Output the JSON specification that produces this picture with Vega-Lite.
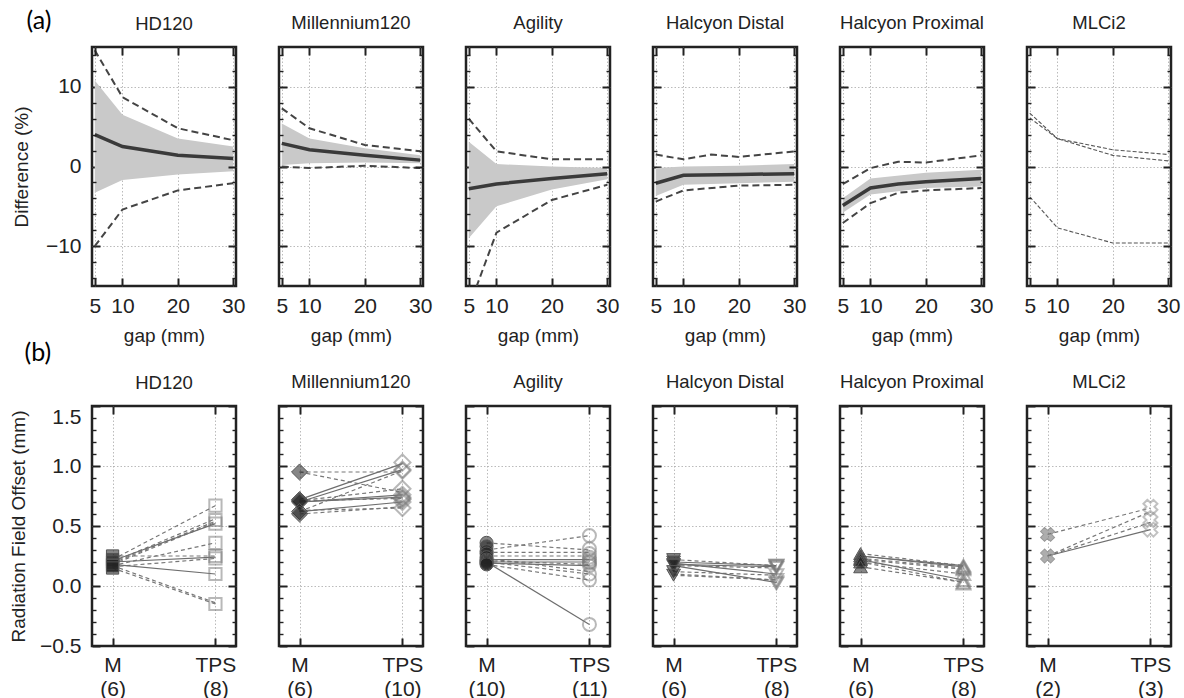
{
  "$schema": "https://vega.github.io/schema/vega-lite/v6.json",
  "padding": {"left": 8, "top": 6, "right": 5, "bottom": 5},
  "columns": 6,
  "bounds": "flush",
  "spacing": {"column": 43, "row": 120},
  "datasets": {
    "band": [
      {"inst": "HD120", "gap": 5, "lo": -3.3, "hi": 10.8},
      {"inst": "HD120", "gap": 10, "lo": -1.7, "hi": 6.5},
      {"inst": "HD120", "gap": 20, "lo": -1.0, "hi": 3.5},
      {"inst": "HD120", "gap": 30, "lo": -0.6, "hi": 2.5},
      {"inst": "Millennium120", "gap": 5, "lo": 0.2, "hi": 5.4},
      {"inst": "Millennium120", "gap": 10, "lo": 0.4, "hi": 3.5},
      {"inst": "Millennium120", "gap": 20, "lo": 0.5, "hi": 2.3},
      {"inst": "Millennium120", "gap": 30, "lo": 0.4, "hi": 1.4},
      {"inst": "Agility", "gap": 5, "lo": -9.0, "hi": 3.1},
      {"inst": "Agility", "gap": 10, "lo": -5.0, "hi": 0.3},
      {"inst": "Agility", "gap": 20, "lo": -2.9, "hi": 0.0},
      {"inst": "Agility", "gap": 30, "lo": -1.6, "hi": -0.2},
      {"inst": "Halcyon Distal", "gap": 5, "lo": -3.7, "hi": -0.2},
      {"inst": "Halcyon Distal", "gap": 10, "lo": -2.3, "hi": 0.0},
      {"inst": "Halcyon Distal", "gap": 20, "lo": -2.1, "hi": 0.1},
      {"inst": "Halcyon Distal", "gap": 30, "lo": -1.9, "hi": 0.3},
      {"inst": "Halcyon Proximal", "gap": 5, "lo": -5.8, "hi": -4.0},
      {"inst": "Halcyon Proximal", "gap": 10, "lo": -3.5, "hi": -1.5},
      {"inst": "Halcyon Proximal", "gap": 20, "lo": -2.7, "hi": -0.8},
      {"inst": "Halcyon Proximal", "gap": 30, "lo": -2.5, "hi": -0.4}
    ],
    "top": [
      {"inst": "HD120", "series": "mean", "gap": 5, "value": 4.0},
      {"inst": "HD120", "series": "mean", "gap": 10, "value": 2.5},
      {"inst": "HD120", "series": "mean", "gap": 20, "value": 1.4},
      {"inst": "HD120", "series": "mean", "gap": 30, "value": 1.0},
      {"inst": "HD120", "series": "max", "gap": 5, "value": 14.6},
      {"inst": "HD120", "series": "max", "gap": 10, "value": 8.7},
      {"inst": "HD120", "series": "max", "gap": 20, "value": 4.8},
      {"inst": "HD120", "series": "max", "gap": 30, "value": 3.3},
      {"inst": "HD120", "series": "min", "gap": 5, "value": -10.0},
      {"inst": "HD120", "series": "min", "gap": 10, "value": -5.4},
      {"inst": "HD120", "series": "min", "gap": 20, "value": -3.0},
      {"inst": "HD120", "series": "min", "gap": 30, "value": -2.1},
      {"inst": "Millennium120", "series": "mean", "gap": 5, "value": 2.9},
      {"inst": "Millennium120", "series": "mean", "gap": 10, "value": 2.1},
      {"inst": "Millennium120", "series": "mean", "gap": 20, "value": 1.4},
      {"inst": "Millennium120", "series": "mean", "gap": 30, "value": 0.8},
      {"inst": "Millennium120", "series": "max", "gap": 5, "value": 7.3},
      {"inst": "Millennium120", "series": "max", "gap": 10, "value": 4.8},
      {"inst": "Millennium120", "series": "max", "gap": 20, "value": 2.7},
      {"inst": "Millennium120", "series": "max", "gap": 30, "value": 1.9},
      {"inst": "Millennium120", "series": "min", "gap": 5, "value": 0.0},
      {"inst": "Millennium120", "series": "min", "gap": 10, "value": -0.2},
      {"inst": "Millennium120", "series": "min", "gap": 20, "value": 0.1},
      {"inst": "Millennium120", "series": "min", "gap": 30, "value": -0.2},
      {"inst": "Agility", "series": "mean", "gap": 5, "value": -2.8},
      {"inst": "Agility", "series": "mean", "gap": 10, "value": -2.2},
      {"inst": "Agility", "series": "mean", "gap": 20, "value": -1.5},
      {"inst": "Agility", "series": "mean", "gap": 30, "value": -0.9},
      {"inst": "Agility", "series": "max", "gap": 5, "value": 6.0},
      {"inst": "Agility", "series": "max", "gap": 10, "value": 1.9},
      {"inst": "Agility", "series": "max", "gap": 20, "value": 0.9},
      {"inst": "Agility", "series": "max", "gap": 30, "value": 0.9},
      {"inst": "Agility", "series": "min", "gap": 5, "value": -17.7},
      {"inst": "Agility", "series": "min", "gap": 10, "value": -8.3},
      {"inst": "Agility", "series": "min", "gap": 20, "value": -4.2},
      {"inst": "Agility", "series": "min", "gap": 30, "value": -2.3},
      {"inst": "Halcyon Distal", "series": "mean", "gap": 5, "value": -2.1},
      {"inst": "Halcyon Distal", "series": "mean", "gap": 10, "value": -1.1},
      {"inst": "Halcyon Distal", "series": "mean", "gap": 20, "value": -1.0},
      {"inst": "Halcyon Distal", "series": "mean", "gap": 30, "value": -0.9},
      {"inst": "Halcyon Distal", "series": "max", "gap": 5, "value": 1.5},
      {"inst": "Halcyon Distal", "series": "max", "gap": 10, "value": 0.9},
      {"inst": "Halcyon Distal", "series": "max", "gap": 15, "value": 1.5},
      {"inst": "Halcyon Distal", "series": "max", "gap": 20, "value": 1.2},
      {"inst": "Halcyon Distal", "series": "max", "gap": 30, "value": 1.9},
      {"inst": "Halcyon Distal", "series": "min", "gap": 5, "value": -4.4},
      {"inst": "Halcyon Distal", "series": "min", "gap": 10, "value": -3.0},
      {"inst": "Halcyon Distal", "series": "min", "gap": 20, "value": -2.4},
      {"inst": "Halcyon Distal", "series": "min", "gap": 30, "value": -2.3},
      {"inst": "Halcyon Proximal", "series": "mean", "gap": 5, "value": -4.9},
      {"inst": "Halcyon Proximal", "series": "mean", "gap": 10, "value": -2.7},
      {"inst": "Halcyon Proximal", "series": "mean", "gap": 15, "value": -2.2},
      {"inst": "Halcyon Proximal", "series": "mean", "gap": 20, "value": -1.9},
      {"inst": "Halcyon Proximal", "series": "mean", "gap": 30, "value": -1.5},
      {"inst": "Halcyon Proximal", "series": "max", "gap": 5, "value": -2.2},
      {"inst": "Halcyon Proximal", "series": "max", "gap": 10, "value": -0.2},
      {"inst": "Halcyon Proximal", "series": "max", "gap": 15, "value": 0.6},
      {"inst": "Halcyon Proximal", "series": "max", "gap": 20, "value": 0.5},
      {"inst": "Halcyon Proximal", "series": "max", "gap": 30, "value": 1.4},
      {"inst": "Halcyon Proximal", "series": "min", "gap": 5, "value": -7.1},
      {"inst": "Halcyon Proximal", "series": "min", "gap": 10, "value": -4.6},
      {"inst": "Halcyon Proximal", "series": "min", "gap": 15, "value": -3.3},
      {"inst": "Halcyon Proximal", "series": "min", "gap": 20, "value": -3.0},
      {"inst": "Halcyon Proximal", "series": "min", "gap": 30, "value": -2.7},
      {"inst": "MLCi2", "series": "a", "gap": 5, "value": 6.7},
      {"inst": "MLCi2", "series": "a", "gap": 10, "value": 3.5},
      {"inst": "MLCi2", "series": "a", "gap": 20, "value": 2.1},
      {"inst": "MLCi2", "series": "a", "gap": 30, "value": 1.5},
      {"inst": "MLCi2", "series": "b", "gap": 5, "value": 6.1},
      {"inst": "MLCi2", "series": "b", "gap": 10, "value": 3.5},
      {"inst": "MLCi2", "series": "b", "gap": 20, "value": 1.4},
      {"inst": "MLCi2", "series": "b", "gap": 30, "value": 0.7},
      {"inst": "MLCi2", "series": "c", "gap": 5, "value": -3.8},
      {"inst": "MLCi2", "series": "c", "gap": 10, "value": -7.7},
      {"inst": "MLCi2", "series": "c", "gap": 20, "value": -9.6},
      {"inst": "MLCi2", "series": "c", "gap": 30, "value": -9.6}
    ],
    "pts": [
      {"inst": "HD120", "cat": "M", "value": 0.25},
      {"inst": "HD120", "cat": "M", "value": 0.22},
      {"inst": "HD120", "cat": "M", "value": 0.20},
      {"inst": "HD120", "cat": "M", "value": 0.18},
      {"inst": "HD120", "cat": "M", "value": 0.17},
      {"inst": "HD120", "cat": "M", "value": 0.15},
      {"inst": "HD120", "cat": "TPS", "value": 0.67},
      {"inst": "HD120", "cat": "TPS", "value": 0.55},
      {"inst": "HD120", "cat": "TPS", "value": 0.52},
      {"inst": "HD120", "cat": "TPS", "value": 0.36},
      {"inst": "HD120", "cat": "TPS", "value": 0.25},
      {"inst": "HD120", "cat": "TPS", "value": 0.23},
      {"inst": "HD120", "cat": "TPS", "value": 0.10},
      {"inst": "HD120", "cat": "TPS", "value": -0.15},
      {"inst": "Millennium120", "cat": "M", "value": 0.95},
      {"inst": "Millennium120", "cat": "M", "value": 0.72},
      {"inst": "Millennium120", "cat": "M", "value": 0.71},
      {"inst": "Millennium120", "cat": "M", "value": 0.70},
      {"inst": "Millennium120", "cat": "M", "value": 0.62},
      {"inst": "Millennium120", "cat": "M", "value": 0.60},
      {"inst": "Millennium120", "cat": "TPS", "value": 1.03},
      {"inst": "Millennium120", "cat": "TPS", "value": 0.97},
      {"inst": "Millennium120", "cat": "TPS", "value": 0.96},
      {"inst": "Millennium120", "cat": "TPS", "value": 0.81},
      {"inst": "Millennium120", "cat": "TPS", "value": 0.76},
      {"inst": "Millennium120", "cat": "TPS", "value": 0.74},
      {"inst": "Millennium120", "cat": "TPS", "value": 0.73},
      {"inst": "Millennium120", "cat": "TPS", "value": 0.72},
      {"inst": "Millennium120", "cat": "TPS", "value": 0.70},
      {"inst": "Millennium120", "cat": "TPS", "value": 0.65},
      {"inst": "Agility", "cat": "M", "value": 0.36},
      {"inst": "Agility", "cat": "M", "value": 0.33},
      {"inst": "Agility", "cat": "M", "value": 0.29},
      {"inst": "Agility", "cat": "M", "value": 0.27},
      {"inst": "Agility", "cat": "M", "value": 0.24},
      {"inst": "Agility", "cat": "M", "value": 0.22},
      {"inst": "Agility", "cat": "M", "value": 0.21},
      {"inst": "Agility", "cat": "M", "value": 0.20},
      {"inst": "Agility", "cat": "M", "value": 0.19},
      {"inst": "Agility", "cat": "M", "value": 0.18},
      {"inst": "Agility", "cat": "TPS", "value": 0.42},
      {"inst": "Agility", "cat": "TPS", "value": 0.31},
      {"inst": "Agility", "cat": "TPS", "value": 0.27},
      {"inst": "Agility", "cat": "TPS", "value": 0.24},
      {"inst": "Agility", "cat": "TPS", "value": 0.22},
      {"inst": "Agility", "cat": "TPS", "value": 0.20},
      {"inst": "Agility", "cat": "TPS", "value": 0.19},
      {"inst": "Agility", "cat": "TPS", "value": 0.17},
      {"inst": "Agility", "cat": "TPS", "value": 0.10},
      {"inst": "Agility", "cat": "TPS", "value": 0.05},
      {"inst": "Agility", "cat": "TPS", "value": -0.32},
      {"inst": "Halcyon Distal", "cat": "M", "value": 0.22},
      {"inst": "Halcyon Distal", "cat": "M", "value": 0.20},
      {"inst": "Halcyon Distal", "cat": "M", "value": 0.18},
      {"inst": "Halcyon Distal", "cat": "M", "value": 0.17},
      {"inst": "Halcyon Distal", "cat": "M", "value": 0.12},
      {"inst": "Halcyon Distal", "cat": "M", "value": 0.09},
      {"inst": "Halcyon Distal", "cat": "TPS", "value": 0.17},
      {"inst": "Halcyon Distal", "cat": "TPS", "value": 0.17},
      {"inst": "Halcyon Distal", "cat": "TPS", "value": 0.16},
      {"inst": "Halcyon Distal", "cat": "TPS", "value": 0.15},
      {"inst": "Halcyon Distal", "cat": "TPS", "value": 0.09},
      {"inst": "Halcyon Distal", "cat": "TPS", "value": 0.05},
      {"inst": "Halcyon Distal", "cat": "TPS", "value": 0.03},
      {"inst": "Halcyon Distal", "cat": "TPS", "value": 0.02},
      {"inst": "Halcyon Proximal", "cat": "M", "value": 0.27},
      {"inst": "Halcyon Proximal", "cat": "M", "value": 0.25},
      {"inst": "Halcyon Proximal", "cat": "M", "value": 0.23},
      {"inst": "Halcyon Proximal", "cat": "M", "value": 0.22},
      {"inst": "Halcyon Proximal", "cat": "M", "value": 0.20},
      {"inst": "Halcyon Proximal", "cat": "M", "value": 0.16},
      {"inst": "Halcyon Proximal", "cat": "TPS", "value": 0.17},
      {"inst": "Halcyon Proximal", "cat": "TPS", "value": 0.16},
      {"inst": "Halcyon Proximal", "cat": "TPS", "value": 0.15},
      {"inst": "Halcyon Proximal", "cat": "TPS", "value": 0.14},
      {"inst": "Halcyon Proximal", "cat": "TPS", "value": 0.10},
      {"inst": "Halcyon Proximal", "cat": "TPS", "value": 0.05},
      {"inst": "Halcyon Proximal", "cat": "TPS", "value": 0.03},
      {"inst": "Halcyon Proximal", "cat": "TPS", "value": 0.02},
      {"inst": "MLCi2", "cat": "M", "value": 0.43},
      {"inst": "MLCi2", "cat": "M", "value": 0.25},
      {"inst": "MLCi2", "cat": "TPS", "value": 0.66},
      {"inst": "MLCi2", "cat": "TPS", "value": 0.55},
      {"inst": "MLCi2", "cat": "TPS", "value": 0.47}
    ],
    "pairs": [
      {"inst": "HD120", "m": 0.22, "t": 0.67, "dashed": 1},
      {"inst": "HD120", "m": 0.20, "t": 0.56, "dashed": 1},
      {"inst": "HD120", "m": 0.18, "t": 0.53, "dashed": 1},
      {"inst": "HD120", "m": 0.21, "t": 0.52, "dashed": 0},
      {"inst": "HD120", "m": 0.19, "t": 0.54, "dashed": 1},
      {"inst": "HD120", "m": 0.17, "t": 0.36, "dashed": 1},
      {"inst": "HD120", "m": 0.25, "t": 0.25, "dashed": 1},
      {"inst": "HD120", "m": 0.20, "t": 0.24, "dashed": 0},
      {"inst": "HD120", "m": 0.16, "t": 0.23, "dashed": 1},
      {"inst": "HD120", "m": 0.18, "t": 0.10, "dashed": 0},
      {"inst": "HD120", "m": 0.17, "t": -0.14, "dashed": 1},
      {"inst": "HD120", "m": 0.15, "t": -0.15, "dashed": 1},
      {"inst": "Millennium120", "m": 0.95, "t": 0.95, "dashed": 1},
      {"inst": "Millennium120", "m": 0.95, "t": 0.78, "dashed": 1},
      {"inst": "Millennium120", "m": 0.72, "t": 1.02, "dashed": 0},
      {"inst": "Millennium120", "m": 0.70, "t": 0.97, "dashed": 0},
      {"inst": "Millennium120", "m": 0.62, "t": 0.96, "dashed": 1},
      {"inst": "Millennium120", "m": 0.71, "t": 0.81, "dashed": 1},
      {"inst": "Millennium120", "m": 0.70, "t": 0.76, "dashed": 0},
      {"inst": "Millennium120", "m": 0.71, "t": 0.73, "dashed": 1},
      {"inst": "Millennium120", "m": 0.62, "t": 0.70, "dashed": 0},
      {"inst": "Millennium120", "m": 0.60, "t": 0.66, "dashed": 1},
      {"inst": "Millennium120", "m": 0.70, "t": 0.74, "dashed": 0},
      {"inst": "Millennium120", "m": 0.63, "t": 0.65, "dashed": 1},
      {"inst": "Agility", "m": 0.30, "t": 0.42, "dashed": 1},
      {"inst": "Agility", "m": 0.36, "t": 0.30, "dashed": 1},
      {"inst": "Agility", "m": 0.28, "t": 0.28, "dashed": 1},
      {"inst": "Agility", "m": 0.25, "t": 0.25, "dashed": 1},
      {"inst": "Agility", "m": 0.22, "t": 0.22, "dashed": 0},
      {"inst": "Agility", "m": 0.20, "t": 0.20, "dashed": 0},
      {"inst": "Agility", "m": 0.21, "t": 0.18, "dashed": 1},
      {"inst": "Agility", "m": 0.19, "t": 0.17, "dashed": 0},
      {"inst": "Agility", "m": 0.20, "t": 0.10, "dashed": 1},
      {"inst": "Agility", "m": 0.18, "t": 0.05, "dashed": 1},
      {"inst": "Agility", "m": 0.20, "t": -0.32, "dashed": 0},
      {"inst": "Agility", "m": 0.23, "t": 0.12, "dashed": 1},
      {"inst": "Halcyon Distal", "m": 0.22, "t": 0.17, "dashed": 1},
      {"inst": "Halcyon Distal", "m": 0.20, "t": 0.17, "dashed": 0},
      {"inst": "Halcyon Distal", "m": 0.18, "t": 0.16, "dashed": 0},
      {"inst": "Halcyon Distal", "m": 0.17, "t": 0.15, "dashed": 1},
      {"inst": "Halcyon Distal", "m": 0.12, "t": 0.09, "dashed": 1},
      {"inst": "Halcyon Distal", "m": 0.09, "t": 0.05, "dashed": 1},
      {"inst": "Halcyon Distal", "m": 0.17, "t": 0.03, "dashed": 0},
      {"inst": "Halcyon Distal", "m": 0.10, "t": 0.05, "dashed": 1},
      {"inst": "Halcyon Distal", "m": 0.19, "t": 0.10, "dashed": 0},
      {"inst": "Halcyon Proximal", "m": 0.27, "t": 0.17, "dashed": 1},
      {"inst": "Halcyon Proximal", "m": 0.25, "t": 0.16, "dashed": 0},
      {"inst": "Halcyon Proximal", "m": 0.23, "t": 0.15, "dashed": 1},
      {"inst": "Halcyon Proximal", "m": 0.22, "t": 0.14, "dashed": 1},
      {"inst": "Halcyon Proximal", "m": 0.20, "t": 0.10, "dashed": 1},
      {"inst": "Halcyon Proximal", "m": 0.22, "t": 0.05, "dashed": 0},
      {"inst": "Halcyon Proximal", "m": 0.20, "t": 0.03, "dashed": 1},
      {"inst": "Halcyon Proximal", "m": 0.16, "t": 0.03, "dashed": 1},
      {"inst": "Halcyon Proximal", "m": 0.25, "t": 0.17, "dashed": 0},
      {"inst": "MLCi2", "m": 0.43, "t": 0.65, "dashed": 1},
      {"inst": "MLCi2", "m": 0.25, "t": 0.62, "dashed": 1},
      {"inst": "MLCi2", "m": 0.25, "t": 0.53, "dashed": 1},
      {"inst": "MLCi2", "m": 0.25, "t": 0.47, "dashed": 0}
    ]
  },
  "config": {
    "view": {"stroke": "#222222", "strokeWidth": 2.5, "strokeOpacity": 1},
    "font": "Liberation Sans",
    "axis": {"domain": false, "grid": false, "tickColor": "#222222", "tickWidth": 2, "labelFont": "Liberation Sans", "labelFontSize": 21, "labelColor": "#222222", "titleFont": "Liberation Sans", "titleFontSize": 19, "titleFontWeight": "normal", "titleColor": "#222222", "gridColor": "#aaaaaa", "gridDash": [1.5, 2], "gridWidth": 0.8, "labelFlush": false, "labelOverlap": false},
    "title": {"font": "Liberation Sans", "fontSize": 18.5, "fontWeight": "normal", "color": "#222222", "offset": 14}
  },
  "concat": [
    {
      "title": {"text": "HD120", "offset": -25},
      "width": 144, "height": 239,
      "resolve": {"axis": {"x": "independent", "y": "independent"}},
      "layer": [
        {"data": {"name": "band"}, "transform": [{"filter": "datum.inst === 'HD120'"}],
         "mark": {"type": "area", "color": "#c9c9c9"},
         "encoding": {
           "x": {"field": "gap", "type": "quantitative", "scale": {"domain": [4.5, 30.5], "nice": false, "zero": false}, "axis": {"orient": "bottom", "values": [5, 10, 20, 30], "format": "d", "tickSize": 8, "offset": -8, "grid": true, "labelPadding": 9, "title": "gap (mm)", "titlePadding": 10, "zindex": 0}},
           "y": {"field": "lo", "type": "quantitative", "scale": {"domain": [-15, 15], "nice": false, "zero": false}, "axis": {"orient": "left", "values": [-10, 0, 10], "format": "d", "tickSize": 8, "offset": -8, "grid": true, "labelPadding": 11, "title": "Difference (%)", "titlePadding": 14, "zindex": 0}},
           "y2": {"field": "hi"}}},
        {"data": {"name": "top"}, "transform": [{"filter": "datum.inst === 'HD120' && datum.series !== 'mean'"}],
         "mark": {"type": "line", "color": "#444444", "strokeWidth": 2, "strokeDash": [7, 4], "clip": true},
         "encoding": {
           "x": {"field": "gap", "type": "quantitative", "scale": {"domain": [4.5, 30.5], "nice": false, "zero": false}, "axis": {"orient": "top", "values": [5, 10, 20, 30], "tickSize": 8, "offset": -8, "labels": false, "title": null, "zindex": 1}},
           "y": {"field": "value", "type": "quantitative", "scale": {"domain": [-15, 15], "nice": false, "zero": false}, "axis": {"orient": "left", "values": [-14, -12, -8, -6, -4, -2, 2, 4, 6, 8, 12, 14], "tickSize": 4, "offset": -4, "tickWidth": 1.4, "labels": false, "title": "(a)", "titleAngle": 0, "titleX": -70, "titleY": -39, "titleAlign": "left", "titleBaseline": "top", "titleFont": "Lato", "titleFontSize": 25, "titleColor": "#000000", "zindex": 1}},
           "detail": {"field": "series"}}},
        {"data": {"name": "top"}, "transform": [{"filter": "datum.inst === 'HD120' && datum.series === 'mean'"}],
         "mark": {"type": "line", "color": "#3a3a3a", "strokeWidth": 3.5},
         "encoding": {
           "x": {"field": "gap", "type": "quantitative", "scale": {"domain": [4.5, 30.5], "nice": false, "zero": false}, "axis": null},
           "y": {"field": "value", "type": "quantitative", "scale": {"domain": [-15, 15], "nice": false, "zero": false}, "axis": {"orient": "right", "values": [-10, 0, 10], "tickSize": 8, "offset": -8, "labels": false, "title": null, "zindex": 1}}}},
        {"data": {"name": "top"}, "transform": [{"filter": "datum.inst === 'HD120'"}],
         "mark": {"type": "point", "opacity": 0, "clip": true},
         "encoding": {
           "x": {"field": "gap", "type": "quantitative", "scale": {"domain": [4.5, 30.5], "nice": false, "zero": false}, "axis": null},
           "y": {"field": "value", "type": "quantitative", "scale": {"domain": [-15, 15], "nice": false, "zero": false}, "axis": {"orient": "right", "values": [-14, -12, -8, -6, -4, -2, 2, 4, 6, 8, 12, 14], "tickSize": 4, "offset": -4, "tickWidth": 1.4, "labels": false, "title": null, "zindex": 1}}}}
      ]
    },
    {
      "title": "Millennium120",
      "width": 144, "height": 239,
      "resolve": {"axis": {"x": "independent", "y": "independent"}},
      "layer": [
        {"data": {"name": "band"}, "transform": [{"filter": "datum.inst === 'Millennium120'"}],
         "mark": {"type": "area", "color": "#c9c9c9"},
         "encoding": {
           "x": {"field": "gap", "type": "quantitative", "scale": {"domain": [4.5, 30.5], "nice": false, "zero": false}, "axis": {"orient": "bottom", "values": [5, 10, 20, 30], "format": "d", "tickSize": 8, "offset": -8, "grid": true, "labelPadding": 9, "title": "gap (mm)", "titlePadding": 10, "zindex": 0}},
           "y": {"field": "lo", "type": "quantitative", "scale": {"domain": [-15, 15], "nice": false, "zero": false}, "axis": {"orient": "left", "values": [-10, 0, 10], "tickSize": 8, "offset": -8, "grid": true, "labels": false, "title": null, "zindex": 0}},
           "y2": {"field": "hi"}}},
        {"data": {"name": "top"}, "transform": [{"filter": "datum.inst === 'Millennium120' && datum.series !== 'mean'"}],
         "mark": {"type": "line", "color": "#444444", "strokeWidth": 2, "strokeDash": [7, 4], "clip": true},
         "encoding": {
           "x": {"field": "gap", "type": "quantitative", "scale": {"domain": [4.5, 30.5], "nice": false, "zero": false}, "axis": {"orient": "top", "values": [5, 10, 20, 30], "tickSize": 8, "offset": -8, "labels": false, "title": null, "zindex": 1}},
           "y": {"field": "value", "type": "quantitative", "scale": {"domain": [-15, 15], "nice": false, "zero": false}, "axis": {"orient": "left", "values": [-14, -12, -8, -6, -4, -2, 2, 4, 6, 8, 12, 14], "tickSize": 4, "offset": -4, "tickWidth": 1.4, "labels": false, "title": null, "zindex": 1}},
           "detail": {"field": "series"}}},
        {"data": {"name": "top"}, "transform": [{"filter": "datum.inst === 'Millennium120' && datum.series === 'mean'"}],
         "mark": {"type": "line", "color": "#3a3a3a", "strokeWidth": 3.5},
         "encoding": {
           "x": {"field": "gap", "type": "quantitative", "scale": {"domain": [4.5, 30.5], "nice": false, "zero": false}, "axis": null},
           "y": {"field": "value", "type": "quantitative", "scale": {"domain": [-15, 15], "nice": false, "zero": false}, "axis": {"orient": "right", "values": [-10, 0, 10], "tickSize": 8, "offset": -8, "labels": false, "title": null, "zindex": 1}}}},
        {"data": {"name": "top"}, "transform": [{"filter": "datum.inst === 'Millennium120'"}],
         "mark": {"type": "point", "opacity": 0, "clip": true},
         "encoding": {
           "x": {"field": "gap", "type": "quantitative", "scale": {"domain": [4.5, 30.5], "nice": false, "zero": false}, "axis": null},
           "y": {"field": "value", "type": "quantitative", "scale": {"domain": [-15, 15], "nice": false, "zero": false}, "axis": {"orient": "right", "values": [-14, -12, -8, -6, -4, -2, 2, 4, 6, 8, 12, 14], "tickSize": 4, "offset": -4, "tickWidth": 1.4, "labels": false, "title": null, "zindex": 1}}}}
      ]
    },
    {
      "title": "Agility",
      "width": 144, "height": 239,
      "resolve": {"axis": {"x": "independent", "y": "independent"}},
      "layer": [
        {"data": {"name": "band"}, "transform": [{"filter": "datum.inst === 'Agility'"}],
         "mark": {"type": "area", "color": "#c9c9c9"},
         "encoding": {
           "x": {"field": "gap", "type": "quantitative", "scale": {"domain": [4.5, 30.5], "nice": false, "zero": false}, "axis": {"orient": "bottom", "values": [5, 10, 20, 30], "format": "d", "tickSize": 8, "offset": -8, "grid": true, "labelPadding": 9, "title": "gap (mm)", "titlePadding": 10, "zindex": 0}},
           "y": {"field": "lo", "type": "quantitative", "scale": {"domain": [-15, 15], "nice": false, "zero": false}, "axis": {"orient": "left", "values": [-10, 0, 10], "tickSize": 8, "offset": -8, "grid": true, "labels": false, "title": null, "zindex": 0}},
           "y2": {"field": "hi"}}},
        {"data": {"name": "top"}, "transform": [{"filter": "datum.inst === 'Agility' && datum.series !== 'mean'"}],
         "mark": {"type": "line", "color": "#444444", "strokeWidth": 2, "strokeDash": [7, 4], "clip": true},
         "encoding": {
           "x": {"field": "gap", "type": "quantitative", "scale": {"domain": [4.5, 30.5], "nice": false, "zero": false}, "axis": {"orient": "top", "values": [5, 10, 20, 30], "tickSize": 8, "offset": -8, "labels": false, "title": null, "zindex": 1}},
           "y": {"field": "value", "type": "quantitative", "scale": {"domain": [-15, 15], "nice": false, "zero": false}, "axis": {"orient": "left", "values": [-14, -12, -8, -6, -4, -2, 2, 4, 6, 8, 12, 14], "tickSize": 4, "offset": -4, "tickWidth": 1.4, "labels": false, "title": null, "zindex": 1}},
           "detail": {"field": "series"}}},
        {"data": {"name": "top"}, "transform": [{"filter": "datum.inst === 'Agility' && datum.series === 'mean'"}],
         "mark": {"type": "line", "color": "#3a3a3a", "strokeWidth": 3.5},
         "encoding": {
           "x": {"field": "gap", "type": "quantitative", "scale": {"domain": [4.5, 30.5], "nice": false, "zero": false}, "axis": null},
           "y": {"field": "value", "type": "quantitative", "scale": {"domain": [-15, 15], "nice": false, "zero": false}, "axis": {"orient": "right", "values": [-10, 0, 10], "tickSize": 8, "offset": -8, "labels": false, "title": null, "zindex": 1}}}},
        {"data": {"name": "top"}, "transform": [{"filter": "datum.inst === 'Agility'"}],
         "mark": {"type": "point", "opacity": 0, "clip": true},
         "encoding": {
           "x": {"field": "gap", "type": "quantitative", "scale": {"domain": [4.5, 30.5], "nice": false, "zero": false}, "axis": null},
           "y": {"field": "value", "type": "quantitative", "scale": {"domain": [-15, 15], "nice": false, "zero": false}, "axis": {"orient": "right", "values": [-14, -12, -8, -6, -4, -2, 2, 4, 6, 8, 12, 14], "tickSize": 4, "offset": -4, "tickWidth": 1.4, "labels": false, "title": null, "zindex": 1}}}}
      ]
    },
    {
      "title": "Halcyon Distal",
      "width": 144, "height": 239,
      "resolve": {"axis": {"x": "independent", "y": "independent"}},
      "layer": [
        {"data": {"name": "band"}, "transform": [{"filter": "datum.inst === 'Halcyon Distal'"}],
         "mark": {"type": "area", "color": "#c9c9c9"},
         "encoding": {
           "x": {"field": "gap", "type": "quantitative", "scale": {"domain": [4.5, 30.5], "nice": false, "zero": false}, "axis": {"orient": "bottom", "values": [5, 10, 20, 30], "format": "d", "tickSize": 8, "offset": -8, "grid": true, "labelPadding": 9, "title": "gap (mm)", "titlePadding": 10, "zindex": 0}},
           "y": {"field": "lo", "type": "quantitative", "scale": {"domain": [-15, 15], "nice": false, "zero": false}, "axis": {"orient": "left", "values": [-10, 0, 10], "tickSize": 8, "offset": -8, "grid": true, "labels": false, "title": null, "zindex": 0}},
           "y2": {"field": "hi"}}},
        {"data": {"name": "top"}, "transform": [{"filter": "datum.inst === 'Halcyon Distal' && datum.series !== 'mean'"}],
         "mark": {"type": "line", "color": "#444444", "strokeWidth": 2, "strokeDash": [7, 4], "clip": true},
         "encoding": {
           "x": {"field": "gap", "type": "quantitative", "scale": {"domain": [4.5, 30.5], "nice": false, "zero": false}, "axis": {"orient": "top", "values": [5, 10, 20, 30], "tickSize": 8, "offset": -8, "labels": false, "title": null, "zindex": 1}},
           "y": {"field": "value", "type": "quantitative", "scale": {"domain": [-15, 15], "nice": false, "zero": false}, "axis": {"orient": "left", "values": [-14, -12, -8, -6, -4, -2, 2, 4, 6, 8, 12, 14], "tickSize": 4, "offset": -4, "tickWidth": 1.4, "labels": false, "title": null, "zindex": 1}},
           "detail": {"field": "series"}}},
        {"data": {"name": "top"}, "transform": [{"filter": "datum.inst === 'Halcyon Distal' && datum.series === 'mean'"}],
         "mark": {"type": "line", "color": "#3a3a3a", "strokeWidth": 3.5},
         "encoding": {
           "x": {"field": "gap", "type": "quantitative", "scale": {"domain": [4.5, 30.5], "nice": false, "zero": false}, "axis": null},
           "y": {"field": "value", "type": "quantitative", "scale": {"domain": [-15, 15], "nice": false, "zero": false}, "axis": {"orient": "right", "values": [-10, 0, 10], "tickSize": 8, "offset": -8, "labels": false, "title": null, "zindex": 1}}}},
        {"data": {"name": "top"}, "transform": [{"filter": "datum.inst === 'Halcyon Distal'"}],
         "mark": {"type": "point", "opacity": 0, "clip": true},
         "encoding": {
           "x": {"field": "gap", "type": "quantitative", "scale": {"domain": [4.5, 30.5], "nice": false, "zero": false}, "axis": null},
           "y": {"field": "value", "type": "quantitative", "scale": {"domain": [-15, 15], "nice": false, "zero": false}, "axis": {"orient": "right", "values": [-14, -12, -8, -6, -4, -2, 2, 4, 6, 8, 12, 14], "tickSize": 4, "offset": -4, "tickWidth": 1.4, "labels": false, "title": null, "zindex": 1}}}}
      ]
    },
    {
      "title": "Halcyon Proximal",
      "width": 144, "height": 239,
      "resolve": {"axis": {"x": "independent", "y": "independent"}},
      "layer": [
        {"data": {"name": "band"}, "transform": [{"filter": "datum.inst === 'Halcyon Proximal'"}],
         "mark": {"type": "area", "color": "#c9c9c9"},
         "encoding": {
           "x": {"field": "gap", "type": "quantitative", "scale": {"domain": [4.5, 30.5], "nice": false, "zero": false}, "axis": {"orient": "bottom", "values": [5, 10, 20, 30], "format": "d", "tickSize": 8, "offset": -8, "grid": true, "labelPadding": 9, "title": "gap (mm)", "titlePadding": 10, "zindex": 0}},
           "y": {"field": "lo", "type": "quantitative", "scale": {"domain": [-15, 15], "nice": false, "zero": false}, "axis": {"orient": "left", "values": [-10, 0, 10], "tickSize": 8, "offset": -8, "grid": true, "labels": false, "title": null, "zindex": 0}},
           "y2": {"field": "hi"}}},
        {"data": {"name": "top"}, "transform": [{"filter": "datum.inst === 'Halcyon Proximal' && datum.series !== 'mean'"}],
         "mark": {"type": "line", "color": "#444444", "strokeWidth": 2, "strokeDash": [7, 4], "clip": true},
         "encoding": {
           "x": {"field": "gap", "type": "quantitative", "scale": {"domain": [4.5, 30.5], "nice": false, "zero": false}, "axis": {"orient": "top", "values": [5, 10, 20, 30], "tickSize": 8, "offset": -8, "labels": false, "title": null, "zindex": 1}},
           "y": {"field": "value", "type": "quantitative", "scale": {"domain": [-15, 15], "nice": false, "zero": false}, "axis": {"orient": "left", "values": [-14, -12, -8, -6, -4, -2, 2, 4, 6, 8, 12, 14], "tickSize": 4, "offset": -4, "tickWidth": 1.4, "labels": false, "title": null, "zindex": 1}},
           "detail": {"field": "series"}}},
        {"data": {"name": "top"}, "transform": [{"filter": "datum.inst === 'Halcyon Proximal' && datum.series === 'mean'"}],
         "mark": {"type": "line", "color": "#3a3a3a", "strokeWidth": 3.5},
         "encoding": {
           "x": {"field": "gap", "type": "quantitative", "scale": {"domain": [4.5, 30.5], "nice": false, "zero": false}, "axis": null},
           "y": {"field": "value", "type": "quantitative", "scale": {"domain": [-15, 15], "nice": false, "zero": false}, "axis": {"orient": "right", "values": [-10, 0, 10], "tickSize": 8, "offset": -8, "labels": false, "title": null, "zindex": 1}}}},
        {"data": {"name": "top"}, "transform": [{"filter": "datum.inst === 'Halcyon Proximal'"}],
         "mark": {"type": "point", "opacity": 0, "clip": true},
         "encoding": {
           "x": {"field": "gap", "type": "quantitative", "scale": {"domain": [4.5, 30.5], "nice": false, "zero": false}, "axis": null},
           "y": {"field": "value", "type": "quantitative", "scale": {"domain": [-15, 15], "nice": false, "zero": false}, "axis": {"orient": "right", "values": [-14, -12, -8, -6, -4, -2, 2, 4, 6, 8, 12, 14], "tickSize": 4, "offset": -4, "tickWidth": 1.4, "labels": false, "title": null, "zindex": 1}}}}
      ]
    },
    {
      "title": "MLCi2",
      "width": 144, "height": 239,
      "resolve": {"axis": {"x": "independent", "y": "independent"}},
      "layer": [
        {"data": {"name": "top"}, "transform": [{"filter": "datum.inst === 'MLCi2'"}],
         "mark": {"type": "line", "color": "#555555", "strokeWidth": 1.1, "strokeDash": [4, 2], "clip": true},
         "encoding": {
           "x": {"field": "gap", "type": "quantitative", "scale": {"domain": [4.5, 30.5], "nice": false, "zero": false}, "axis": {"orient": "bottom", "values": [5, 10, 20, 30], "format": "d", "tickSize": 8, "offset": -8, "grid": true, "labelPadding": 9, "title": "gap (mm)", "titlePadding": 10, "zindex": 0}},
           "y": {"field": "value", "type": "quantitative", "scale": {"domain": [-15, 15], "nice": false, "zero": false}, "axis": {"orient": "left", "values": [-10, 0, 10], "tickSize": 8, "offset": -8, "grid": true, "labels": false, "title": null, "zindex": 0}},
           "detail": {"field": "series"}}},
        {"data": {"name": "top"}, "transform": [{"filter": "datum.inst === 'MLCi2'"}],
         "mark": {"type": "point", "opacity": 0, "clip": true},
         "encoding": {
           "x": {"field": "gap", "type": "quantitative", "scale": {"domain": [4.5, 30.5], "nice": false, "zero": false}, "axis": {"orient": "top", "values": [5, 10, 20, 30], "tickSize": 8, "offset": -8, "labels": false, "title": null, "zindex": 1}},
           "y": {"field": "value", "type": "quantitative", "scale": {"domain": [-15, 15], "nice": false, "zero": false}, "axis": {"orient": "left", "values": [-14, -12, -8, -6, -4, -2, 2, 4, 6, 8, 12, 14], "tickSize": 4, "offset": -4, "tickWidth": 1.4, "labels": false, "title": null, "zindex": 1}}}},
        {"data": {"name": "top"}, "transform": [{"filter": "datum.inst === 'MLCi2'"}],
         "mark": {"type": "point", "opacity": 0, "clip": true},
         "encoding": {
           "x": {"field": "gap", "type": "quantitative", "scale": {"domain": [4.5, 30.5], "nice": false, "zero": false}, "axis": null},
           "y": {"field": "value", "type": "quantitative", "scale": {"domain": [-15, 15], "nice": false, "zero": false}, "axis": {"orient": "right", "values": [-10, 0, 10], "tickSize": 8, "offset": -8, "labels": false, "title": null, "zindex": 1}}}},
        {"data": {"name": "top"}, "transform": [{"filter": "datum.inst === 'MLCi2'"}],
         "mark": {"type": "point", "opacity": 0, "clip": true},
         "encoding": {
           "x": {"field": "gap", "type": "quantitative", "scale": {"domain": [4.5, 30.5], "nice": false, "zero": false}, "axis": null},
           "y": {"field": "value", "type": "quantitative", "scale": {"domain": [-15, 15], "nice": false, "zero": false}, "axis": {"orient": "right", "values": [-14, -12, -8, -6, -4, -2, 2, 4, 6, 8, 12, 14], "tickSize": 4, "offset": -4, "tickWidth": 1.4, "labels": false, "title": null, "zindex": 1}}}}
      ]
    },
    {
      "title": {"text": "HD120", "offset": -52},
      "width": 144, "height": 240,
      "resolve": {"axis": {"x": "independent", "y": "independent"}},
      "layer": [
        {"data": {"name": "pairs"}, "transform": [{"filter": "datum.inst === 'HD120' && datum.dashed === 1"}],
         "mark": {"type": "rule", "color": "#777777", "strokeWidth": 1.2, "strokeDash": [4, 3]},
         "encoding": {
           "x": {"datum": "M", "type": "nominal", "scale": {"type": "point", "domain": ["M", "TPS"], "padding": 0.2}, "axis": {"orient": "bottom", "tickSize": 8, "offset": -8, "grid": true, "labelPadding": 8, "labelAngle": 0, "labelLineHeight": 24, "labelExpr": "datum.value === 'M' ? ['M', '(6)'] : ['TPS', '(8)']", "title": null, "zindex": 0}},
           "x2": {"datum": "TPS"},
           "y": {"field": "m", "type": "quantitative", "scale": {"domain": [-0.5, 1.5], "nice": false, "zero": false}, "axis": {"orient": "left", "values": [-0.5, 0, 0.5, 1, 1.5], "format": ".1f", "tickSize": 8, "offset": -8, "grid": true, "gridOpacity": {"condition": {"test": "datum.value === 1.5 || datum.value === -0.5", "value": 0}, "value": 1}, "labelBaseline": {"condition": {"test": "datum.value === 1.5", "value": "top"}, "value": "middle"}, "labelPadding": 11, "title": "Radiation Field Offset (mm)", "titlePadding": 11, "zindex": 0}},
           "y2": {"field": "t"}}},
        {"data": {"name": "pairs"}, "transform": [{"filter": "datum.inst === 'HD120' && datum.dashed === 0"}],
         "mark": {"type": "rule", "color": "#6e6e6e", "strokeWidth": 1.2},
         "encoding": {
           "x": {"datum": "M", "type": "nominal", "scale": {"type": "point", "domain": ["M", "TPS"], "padding": 0.2}, "axis": {"orient": "top", "tickSize": 8, "offset": -8, "labels": false, "title": null, "zindex": 1}},
           "x2": {"datum": "TPS"},
           "y": {"field": "m", "type": "quantitative", "scale": {"domain": [-0.5, 1.5], "nice": false, "zero": false}, "axis": {"orient": "left", "values": [-0.4, -0.3, -0.2, -0.1, 0.1, 0.2, 0.3, 0.4, 0.6, 0.7, 0.8, 0.9, 1.1, 1.2, 1.3, 1.4], "tickSize": 4, "offset": -4, "tickWidth": 1.4, "labels": false, "title": "(b)", "titleAngle": 0, "titleX": -72, "titleY": -66, "titleAlign": "left", "titleBaseline": "top", "titleFont": "Lato", "titleFontSize": 25, "titleColor": "#000000", "zindex": 1}},
           "y2": {"field": "t"}}},
        {"data": {"name": "pts"}, "transform": [{"filter": "datum.inst === 'HD120' && datum.cat === 'M'"}],
         "mark": {"type": "point", "shape": "square", "filled": true, "fill": "#222222", "fillOpacity": 0.55, "stroke": "#555555", "strokeWidth": 1, "size": 150},
         "encoding": {
           "x": {"field": "cat", "type": "nominal", "scale": {"type": "point", "domain": ["M", "TPS"], "padding": 0.2}, "axis": null},
           "y": {"field": "value", "type": "quantitative", "scale": {"domain": [-0.5, 1.5], "nice": false, "zero": false}, "axis": {"orient": "right", "values": [-0.5, 0, 0.5, 1, 1.5], "tickSize": 8, "offset": -8, "labels": false, "title": null, "zindex": 1}}}},
        {"data": {"name": "pts"}, "transform": [{"filter": "datum.inst === 'HD120' && datum.cat === 'TPS'"}],
         "mark": {"type": "point", "shape": "square", "filled": false, "stroke": "#7a7a7a", "strokeOpacity": 0.75, "strokeWidth": 2, "size": 150},
         "encoding": {
           "x": {"field": "cat", "type": "nominal", "scale": {"type": "point", "domain": ["M", "TPS"], "padding": 0.2}, "axis": null},
           "y": {"field": "value", "type": "quantitative", "scale": {"domain": [-0.5, 1.5], "nice": false, "zero": false}, "axis": {"orient": "right", "values": [-0.4, -0.3, -0.2, -0.1, 0.1, 0.2, 0.3, 0.4, 0.6, 0.7, 0.8, 0.9, 1.1, 1.2, 1.3, 1.4], "tickSize": 4, "offset": -4, "tickWidth": 1.4, "labels": false, "title": null, "zindex": 1}}}}
      ]
    },
    {
      "title": "Millennium120",
      "width": 144, "height": 240,
      "resolve": {"axis": {"x": "independent", "y": "independent"}},
      "layer": [
        {"data": {"name": "pairs"}, "transform": [{"filter": "datum.inst === 'Millennium120' && datum.dashed === 1"}],
         "mark": {"type": "rule", "color": "#777777", "strokeWidth": 1.2, "strokeDash": [4, 3]},
         "encoding": {
           "x": {"datum": "M", "type": "nominal", "scale": {"type": "point", "domain": ["M", "TPS"], "padding": 0.2}, "axis": {"orient": "bottom", "tickSize": 8, "offset": -8, "grid": true, "labelPadding": 8, "labelAngle": 0, "labelLineHeight": 24, "labelExpr": "datum.value === 'M' ? ['M', '(6)'] : ['TPS', '(10)']", "title": null, "zindex": 0}},
           "x2": {"datum": "TPS"},
           "y": {"field": "m", "type": "quantitative", "scale": {"domain": [-0.5, 1.5], "nice": false, "zero": false}, "axis": {"orient": "left", "values": [-0.5, 0, 0.5, 1, 1.5], "tickSize": 8, "offset": -8, "grid": true, "gridOpacity": {"condition": {"test": "datum.value === 1.5 || datum.value === -0.5", "value": 0}, "value": 1}, "labels": false, "title": null, "zindex": 0}},
           "y2": {"field": "t"}}},
        {"data": {"name": "pairs"}, "transform": [{"filter": "datum.inst === 'Millennium120' && datum.dashed === 0"}],
         "mark": {"type": "rule", "color": "#6e6e6e", "strokeWidth": 1.2},
         "encoding": {
           "x": {"datum": "M", "type": "nominal", "scale": {"type": "point", "domain": ["M", "TPS"], "padding": 0.2}, "axis": {"orient": "top", "tickSize": 8, "offset": -8, "labels": false, "title": null, "zindex": 1}},
           "x2": {"datum": "TPS"},
           "y": {"field": "m", "type": "quantitative", "scale": {"domain": [-0.5, 1.5], "nice": false, "zero": false}, "axis": {"orient": "left", "values": [-0.4, -0.3, -0.2, -0.1, 0.1, 0.2, 0.3, 0.4, 0.6, 0.7, 0.8, 0.9, 1.1, 1.2, 1.3, 1.4], "tickSize": 4, "offset": -4, "tickWidth": 1.4, "labels": false, "title": null, "zindex": 1}},
           "y2": {"field": "t"}}},
        {"data": {"name": "pts"}, "transform": [{"filter": "datum.inst === 'Millennium120' && datum.cat === 'M'"}],
         "mark": {"type": "point", "shape": "diamond", "filled": true, "fill": "#222222", "fillOpacity": 0.55, "stroke": "#555555", "strokeWidth": 1, "size": 260},
         "encoding": {
           "x": {"field": "cat", "type": "nominal", "scale": {"type": "point", "domain": ["M", "TPS"], "padding": 0.2}, "axis": null},
           "y": {"field": "value", "type": "quantitative", "scale": {"domain": [-0.5, 1.5], "nice": false, "zero": false}, "axis": {"orient": "right", "values": [-0.5, 0, 0.5, 1, 1.5], "tickSize": 8, "offset": -8, "labels": false, "title": null, "zindex": 1}}}},
        {"data": {"name": "pts"}, "transform": [{"filter": "datum.inst === 'Millennium120' && datum.cat === 'TPS'"}],
         "mark": {"type": "point", "shape": "diamond", "filled": false, "stroke": "#7a7a7a", "strokeOpacity": 0.75, "strokeWidth": 2, "size": 260},
         "encoding": {
           "x": {"field": "cat", "type": "nominal", "scale": {"type": "point", "domain": ["M", "TPS"], "padding": 0.2}, "axis": null},
           "y": {"field": "value", "type": "quantitative", "scale": {"domain": [-0.5, 1.5], "nice": false, "zero": false}, "axis": {"orient": "right", "values": [-0.4, -0.3, -0.2, -0.1, 0.1, 0.2, 0.3, 0.4, 0.6, 0.7, 0.8, 0.9, 1.1, 1.2, 1.3, 1.4], "tickSize": 4, "offset": -4, "tickWidth": 1.4, "labels": false, "title": null, "zindex": 1}}}}
      ]
    },
    {
      "title": "Agility",
      "width": 144, "height": 240,
      "resolve": {"axis": {"x": "independent", "y": "independent"}},
      "layer": [
        {"data": {"name": "pairs"}, "transform": [{"filter": "datum.inst === 'Agility' && datum.dashed === 1"}],
         "mark": {"type": "rule", "color": "#777777", "strokeWidth": 1.2, "strokeDash": [4, 3]},
         "encoding": {
           "x": {"datum": "M", "type": "nominal", "scale": {"type": "point", "domain": ["M", "TPS"], "padding": 0.2}, "axis": {"orient": "bottom", "tickSize": 8, "offset": -8, "grid": true, "labelPadding": 8, "labelAngle": 0, "labelLineHeight": 24, "labelExpr": "datum.value === 'M' ? ['M', '(10)'] : ['TPS', '(11)']", "title": null, "zindex": 0}},
           "x2": {"datum": "TPS"},
           "y": {"field": "m", "type": "quantitative", "scale": {"domain": [-0.5, 1.5], "nice": false, "zero": false}, "axis": {"orient": "left", "values": [-0.5, 0, 0.5, 1, 1.5], "tickSize": 8, "offset": -8, "grid": true, "gridOpacity": {"condition": {"test": "datum.value === 1.5 || datum.value === -0.5", "value": 0}, "value": 1}, "labels": false, "title": null, "zindex": 0}},
           "y2": {"field": "t"}}},
        {"data": {"name": "pairs"}, "transform": [{"filter": "datum.inst === 'Agility' && datum.dashed === 0"}],
         "mark": {"type": "rule", "color": "#6e6e6e", "strokeWidth": 1.2},
         "encoding": {
           "x": {"datum": "M", "type": "nominal", "scale": {"type": "point", "domain": ["M", "TPS"], "padding": 0.2}, "axis": {"orient": "top", "tickSize": 8, "offset": -8, "labels": false, "title": null, "zindex": 1}},
           "x2": {"datum": "TPS"},
           "y": {"field": "m", "type": "quantitative", "scale": {"domain": [-0.5, 1.5], "nice": false, "zero": false}, "axis": {"orient": "left", "values": [-0.4, -0.3, -0.2, -0.1, 0.1, 0.2, 0.3, 0.4, 0.6, 0.7, 0.8, 0.9, 1.1, 1.2, 1.3, 1.4], "tickSize": 4, "offset": -4, "tickWidth": 1.4, "labels": false, "title": null, "zindex": 1}},
           "y2": {"field": "t"}}},
        {"data": {"name": "pts"}, "transform": [{"filter": "datum.inst === 'Agility' && datum.cat === 'M'"}],
         "mark": {"type": "point", "shape": "circle", "filled": true, "fill": "#222222", "fillOpacity": 0.55, "stroke": "#555555", "strokeWidth": 1, "size": 170},
         "encoding": {
           "x": {"field": "cat", "type": "nominal", "scale": {"type": "point", "domain": ["M", "TPS"], "padding": 0.2}, "axis": null},
           "y": {"field": "value", "type": "quantitative", "scale": {"domain": [-0.5, 1.5], "nice": false, "zero": false}, "axis": {"orient": "right", "values": [-0.5, 0, 0.5, 1, 1.5], "tickSize": 8, "offset": -8, "labels": false, "title": null, "zindex": 1}}}},
        {"data": {"name": "pts"}, "transform": [{"filter": "datum.inst === 'Agility' && datum.cat === 'TPS'"}],
         "mark": {"type": "point", "shape": "circle", "filled": false, "stroke": "#7a7a7a", "strokeOpacity": 0.75, "strokeWidth": 2, "size": 170},
         "encoding": {
           "x": {"field": "cat", "type": "nominal", "scale": {"type": "point", "domain": ["M", "TPS"], "padding": 0.2}, "axis": null},
           "y": {"field": "value", "type": "quantitative", "scale": {"domain": [-0.5, 1.5], "nice": false, "zero": false}, "axis": {"orient": "right", "values": [-0.4, -0.3, -0.2, -0.1, 0.1, 0.2, 0.3, 0.4, 0.6, 0.7, 0.8, 0.9, 1.1, 1.2, 1.3, 1.4], "tickSize": 4, "offset": -4, "tickWidth": 1.4, "labels": false, "title": null, "zindex": 1}}}}
      ]
    },
    {
      "title": "Halcyon Distal",
      "width": 144, "height": 240,
      "resolve": {"axis": {"x": "independent", "y": "independent"}},
      "layer": [
        {"data": {"name": "pairs"}, "transform": [{"filter": "datum.inst === 'Halcyon Distal' && datum.dashed === 1"}],
         "mark": {"type": "rule", "color": "#777777", "strokeWidth": 1.2, "strokeDash": [4, 3]},
         "encoding": {
           "x": {"datum": "M", "type": "nominal", "scale": {"type": "point", "domain": ["M", "TPS"], "padding": 0.2}, "axis": {"orient": "bottom", "tickSize": 8, "offset": -8, "grid": true, "labelPadding": 8, "labelAngle": 0, "labelLineHeight": 24, "labelExpr": "datum.value === 'M' ? ['M', '(6)'] : ['TPS', '(8)']", "title": null, "zindex": 0}},
           "x2": {"datum": "TPS"},
           "y": {"field": "m", "type": "quantitative", "scale": {"domain": [-0.5, 1.5], "nice": false, "zero": false}, "axis": {"orient": "left", "values": [-0.5, 0, 0.5, 1, 1.5], "tickSize": 8, "offset": -8, "grid": true, "gridOpacity": {"condition": {"test": "datum.value === 1.5 || datum.value === -0.5", "value": 0}, "value": 1}, "labels": false, "title": null, "zindex": 0}},
           "y2": {"field": "t"}}},
        {"data": {"name": "pairs"}, "transform": [{"filter": "datum.inst === 'Halcyon Distal' && datum.dashed === 0"}],
         "mark": {"type": "rule", "color": "#6e6e6e", "strokeWidth": 1.2},
         "encoding": {
           "x": {"datum": "M", "type": "nominal", "scale": {"type": "point", "domain": ["M", "TPS"], "padding": 0.2}, "axis": {"orient": "top", "tickSize": 8, "offset": -8, "labels": false, "title": null, "zindex": 1}},
           "x2": {"datum": "TPS"},
           "y": {"field": "m", "type": "quantitative", "scale": {"domain": [-0.5, 1.5], "nice": false, "zero": false}, "axis": {"orient": "left", "values": [-0.4, -0.3, -0.2, -0.1, 0.1, 0.2, 0.3, 0.4, 0.6, 0.7, 0.8, 0.9, 1.1, 1.2, 1.3, 1.4], "tickSize": 4, "offset": -4, "tickWidth": 1.4, "labels": false, "title": null, "zindex": 1}},
           "y2": {"field": "t"}}},
        {"data": {"name": "pts"}, "transform": [{"filter": "datum.inst === 'Halcyon Distal' && datum.cat === 'M'"}],
         "mark": {"type": "point", "shape": "triangle-down", "filled": true, "fill": "#222222", "fillOpacity": 0.55, "stroke": "#555555", "strokeWidth": 1, "size": 190},
         "encoding": {
           "x": {"field": "cat", "type": "nominal", "scale": {"type": "point", "domain": ["M", "TPS"], "padding": 0.2}, "axis": null},
           "y": {"field": "value", "type": "quantitative", "scale": {"domain": [-0.5, 1.5], "nice": false, "zero": false}, "axis": {"orient": "right", "values": [-0.5, 0, 0.5, 1, 1.5], "tickSize": 8, "offset": -8, "labels": false, "title": null, "zindex": 1}}}},
        {"data": {"name": "pts"}, "transform": [{"filter": "datum.inst === 'Halcyon Distal' && datum.cat === 'TPS'"}],
         "mark": {"type": "point", "shape": "triangle-down", "filled": false, "stroke": "#7a7a7a", "strokeOpacity": 0.75, "strokeWidth": 2, "size": 190},
         "encoding": {
           "x": {"field": "cat", "type": "nominal", "scale": {"type": "point", "domain": ["M", "TPS"], "padding": 0.2}, "axis": null},
           "y": {"field": "value", "type": "quantitative", "scale": {"domain": [-0.5, 1.5], "nice": false, "zero": false}, "axis": {"orient": "right", "values": [-0.4, -0.3, -0.2, -0.1, 0.1, 0.2, 0.3, 0.4, 0.6, 0.7, 0.8, 0.9, 1.1, 1.2, 1.3, 1.4], "tickSize": 4, "offset": -4, "tickWidth": 1.4, "labels": false, "title": null, "zindex": 1}}}}
      ]
    },
    {
      "title": "Halcyon Proximal",
      "width": 144, "height": 240,
      "resolve": {"axis": {"x": "independent", "y": "independent"}},
      "layer": [
        {"data": {"name": "pairs"}, "transform": [{"filter": "datum.inst === 'Halcyon Proximal' && datum.dashed === 1"}],
         "mark": {"type": "rule", "color": "#777777", "strokeWidth": 1.2, "strokeDash": [4, 3]},
         "encoding": {
           "x": {"datum": "M", "type": "nominal", "scale": {"type": "point", "domain": ["M", "TPS"], "padding": 0.2}, "axis": {"orient": "bottom", "tickSize": 8, "offset": -8, "grid": true, "labelPadding": 8, "labelAngle": 0, "labelLineHeight": 24, "labelExpr": "datum.value === 'M' ? ['M', '(6)'] : ['TPS', '(8)']", "title": null, "zindex": 0}},
           "x2": {"datum": "TPS"},
           "y": {"field": "m", "type": "quantitative", "scale": {"domain": [-0.5, 1.5], "nice": false, "zero": false}, "axis": {"orient": "left", "values": [-0.5, 0, 0.5, 1, 1.5], "tickSize": 8, "offset": -8, "grid": true, "gridOpacity": {"condition": {"test": "datum.value === 1.5 || datum.value === -0.5", "value": 0}, "value": 1}, "labels": false, "title": null, "zindex": 0}},
           "y2": {"field": "t"}}},
        {"data": {"name": "pairs"}, "transform": [{"filter": "datum.inst === 'Halcyon Proximal' && datum.dashed === 0"}],
         "mark": {"type": "rule", "color": "#6e6e6e", "strokeWidth": 1.2},
         "encoding": {
           "x": {"datum": "M", "type": "nominal", "scale": {"type": "point", "domain": ["M", "TPS"], "padding": 0.2}, "axis": {"orient": "top", "tickSize": 8, "offset": -8, "labels": false, "title": null, "zindex": 1}},
           "x2": {"datum": "TPS"},
           "y": {"field": "m", "type": "quantitative", "scale": {"domain": [-0.5, 1.5], "nice": false, "zero": false}, "axis": {"orient": "left", "values": [-0.4, -0.3, -0.2, -0.1, 0.1, 0.2, 0.3, 0.4, 0.6, 0.7, 0.8, 0.9, 1.1, 1.2, 1.3, 1.4], "tickSize": 4, "offset": -4, "tickWidth": 1.4, "labels": false, "title": null, "zindex": 1}},
           "y2": {"field": "t"}}},
        {"data": {"name": "pts"}, "transform": [{"filter": "datum.inst === 'Halcyon Proximal' && datum.cat === 'M'"}],
         "mark": {"type": "point", "shape": "triangle-up", "filled": true, "fill": "#222222", "fillOpacity": 0.55, "stroke": "#555555", "strokeWidth": 1, "size": 190},
         "encoding": {
           "x": {"field": "cat", "type": "nominal", "scale": {"type": "point", "domain": ["M", "TPS"], "padding": 0.2}, "axis": null},
           "y": {"field": "value", "type": "quantitative", "scale": {"domain": [-0.5, 1.5], "nice": false, "zero": false}, "axis": {"orient": "right", "values": [-0.5, 0, 0.5, 1, 1.5], "tickSize": 8, "offset": -8, "labels": false, "title": null, "zindex": 1}}}},
        {"data": {"name": "pts"}, "transform": [{"filter": "datum.inst === 'Halcyon Proximal' && datum.cat === 'TPS'"}],
         "mark": {"type": "point", "shape": "triangle-up", "filled": false, "stroke": "#7a7a7a", "strokeOpacity": 0.75, "strokeWidth": 2, "size": 190},
         "encoding": {
           "x": {"field": "cat", "type": "nominal", "scale": {"type": "point", "domain": ["M", "TPS"], "padding": 0.2}, "axis": null},
           "y": {"field": "value", "type": "quantitative", "scale": {"domain": [-0.5, 1.5], "nice": false, "zero": false}, "axis": {"orient": "right", "values": [-0.4, -0.3, -0.2, -0.1, 0.1, 0.2, 0.3, 0.4, 0.6, 0.7, 0.8, 0.9, 1.1, 1.2, 1.3, 1.4], "tickSize": 4, "offset": -4, "tickWidth": 1.4, "labels": false, "title": null, "zindex": 1}}}}
      ]
    },
    {
      "title": "MLCi2",
      "width": 144, "height": 240,
      "resolve": {"axis": {"x": "independent", "y": "independent"}},
      "layer": [
        {"data": {"name": "pairs"}, "transform": [{"filter": "datum.inst === 'MLCi2' && datum.dashed === 1"}],
         "mark": {"type": "rule", "color": "#777777", "strokeWidth": 1.2, "strokeDash": [4, 3]},
         "encoding": {
           "x": {"datum": "M", "type": "nominal", "scale": {"type": "point", "domain": ["M", "TPS"], "padding": 0.2}, "axis": {"orient": "bottom", "tickSize": 8, "offset": -8, "grid": true, "labelPadding": 8, "labelAngle": 0, "labelLineHeight": 24, "labelExpr": "datum.value === 'M' ? ['M', '(2)'] : ['TPS', '(3)']", "title": null, "zindex": 0}},
           "x2": {"datum": "TPS"},
           "y": {"field": "m", "type": "quantitative", "scale": {"domain": [-0.5, 1.5], "nice": false, "zero": false}, "axis": {"orient": "left", "values": [-0.5, 0, 0.5, 1, 1.5], "tickSize": 8, "offset": -8, "grid": true, "gridOpacity": {"condition": {"test": "datum.value === 1.5 || datum.value === -0.5", "value": 0}, "value": 1}, "labels": false, "title": null, "zindex": 0}},
           "y2": {"field": "t"}}},
        {"data": {"name": "pairs"}, "transform": [{"filter": "datum.inst === 'MLCi2' && datum.dashed === 0"}],
         "mark": {"type": "rule", "color": "#6e6e6e", "strokeWidth": 1.2},
         "encoding": {
           "x": {"datum": "M", "type": "nominal", "scale": {"type": "point", "domain": ["M", "TPS"], "padding": 0.2}, "axis": {"orient": "top", "tickSize": 8, "offset": -8, "labels": false, "title": null, "zindex": 1}},
           "x2": {"datum": "TPS"},
           "y": {"field": "m", "type": "quantitative", "scale": {"domain": [-0.5, 1.5], "nice": false, "zero": false}, "axis": {"orient": "left", "values": [-0.4, -0.3, -0.2, -0.1, 0.1, 0.2, 0.3, 0.4, 0.6, 0.7, 0.8, 0.9, 1.1, 1.2, 1.3, 1.4], "tickSize": 4, "offset": -4, "tickWidth": 1.4, "labels": false, "title": null, "zindex": 1}},
           "y2": {"field": "t"}}},
        {"data": {"name": "pts"}, "transform": [{"filter": "datum.inst === 'MLCi2' && datum.cat === 'M'"}],
         "mark": {"type": "point", "shape": "cross", "angle": 45, "filled": true, "fill": "#777777", "fillOpacity": 0.6, "stroke": "#999999", "strokeWidth": 1, "size": 200},
         "encoding": {
           "x": {"field": "cat", "type": "nominal", "scale": {"type": "point", "domain": ["M", "TPS"], "padding": 0.2}, "axis": null},
           "y": {"field": "value", "type": "quantitative", "scale": {"domain": [-0.5, 1.5], "nice": false, "zero": false}, "axis": {"orient": "right", "values": [-0.5, 0, 0.5, 1, 1.5], "tickSize": 8, "offset": -8, "labels": false, "title": null, "zindex": 1}}}},
        {"data": {"name": "pts"}, "transform": [{"filter": "datum.inst === 'MLCi2' && datum.cat === 'TPS'"}],
         "mark": {"type": "point", "shape": "cross", "angle": 45, "filled": false, "stroke": "#999999", "strokeOpacity": 0.85, "strokeWidth": 2, "size": 200},
         "encoding": {
           "x": {"field": "cat", "type": "nominal", "scale": {"type": "point", "domain": ["M", "TPS"], "padding": 0.2}, "axis": null},
           "y": {"field": "value", "type": "quantitative", "scale": {"domain": [-0.5, 1.5], "nice": false, "zero": false}, "axis": {"orient": "right", "values": [-0.4, -0.3, -0.2, -0.1, 0.1, 0.2, 0.3, 0.4, 0.6, 0.7, 0.8, 0.9, 1.1, 1.2, 1.3, 1.4], "tickSize": 4, "offset": -4, "tickWidth": 1.4, "labels": false, "title": null, "zindex": 1}}}}
      ]
    }
  ]
}
